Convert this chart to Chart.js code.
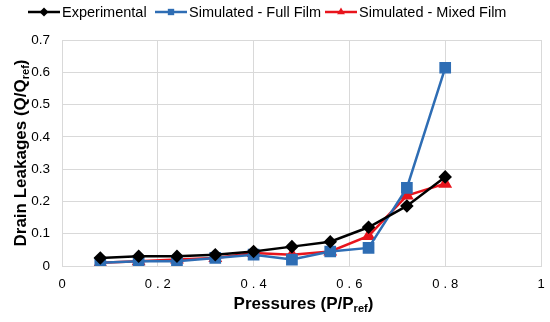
<!DOCTYPE html>
<html>
<head>
<meta charset="utf-8">
<script src="https://cdn.jsdelivr.net/npm/chart.js@4/dist/chart.umd.min.js"></script>
<style>
  html, body { margin: 0; padding: 0; background: #fff; }
  #wrap { width: 550px; height: 322px; }
</style>
</head>
<body>
<div id="wrap"><canvas id="c"></canvas></div>
<script>
// data
const pressures = [0.08, 0.16, 0.24, 0.32, 0.40, 0.48, 0.56, 0.64, 0.72, 0.80];
const experimental = [0.025, 0.03, 0.03, 0.035, 0.045, 0.06, 0.075, 0.12, 0.186, 0.276];
const fullFilm = [0.01, 0.015, 0.015, 0.025, 0.035, 0.02, 0.045, 0.056, 0.242, 0.614];
const mixedFilm = [0.01, 0.015, 0.02, 0.025, 0.04, 0.035, 0.045, 0.093, 0.218, 0.255];
const xTicks = [0, 0.2, 0.4, 0.6, 0.8, 1];
const yTicks = [0, 0.1, 0.2, 0.3, 0.4, 0.5, 0.6, 0.7];

const FONT = "'Liberation Sans', Arial, sans-serif";

function pts(ys) {
    return pressures.map((x, i) => ({ x: x, y: ys[i] }));
}

// draws text with a subscript part, centred on x
function drawSubText(ctx, parts, x, y, size) {
    let total = 0;
    parts.forEach(p => {
        ctx.font = "bold " + (p[1] ? size * 0.65 : size) + "px " + FONT;
        total += ctx.measureText(p[0]).width;
    });
    let cx = x - total / 2;
    parts.forEach(p => {
        ctx.font = "bold " + (p[1] ? size * 0.65 : size) + "px " + FONT;
        ctx.fillText(p[0], cx, p[1] ? y + size * 0.3 : y);
        cx += ctx.measureText(p[0]).width;
    });
}

const extras = {
    id: 'extras',
    afterDraw(chart) {
        const ctx = chart.ctx;
        const area = chart.chartArea;
        ctx.save();
        ctx.fillStyle = '#000';
        ctx.textBaseline = 'middle';
        ctx.textAlign = 'left';

        // x tick labels, spaced out like the original
        const xs = chart.scales.x;
        ctx.font = "13px " + FONT;
        ctx.letterSpacing = '4px';
        xTicks.forEach(v => {
            const s = String(v);
            const w = ctx.measureText(s).width - 4;
            ctx.fillText(s, xs.getPixelForValue(v) - w / 2, area.bottom + 18);
        });
        ctx.letterSpacing = '0px';

        // x axis title
        drawSubText(ctx, [['Pressures (P/P', false], ['ref', true], [')', false]],
            (area.left + area.right) / 2 + 2, 304, 17);

        // y axis title
        ctx.save();
        ctx.translate(21, (area.top + area.bottom) / 2);
        ctx.rotate(-Math.PI / 2);
        drawSubText(ctx, [['Drain Leakages (Q/Q', false], ['ref', true], [')', false]], 0, 0, 17);
        ctx.restore();

        // legend: line with marker in the middle
        const legendX = [28, 155, 325];
        chart.data.datasets.forEach((ds, i) => {
            const x0 = legendX[i], y0 = 12, w = 32;
            ctx.strokeStyle = ds.borderColor;
            ctx.lineWidth = 2.5;
            ctx.beginPath();
            ctx.moveTo(x0, y0);
            ctx.lineTo(x0 + w, y0);
            ctx.stroke();
            ctx.fillStyle = ds.backgroundColor;
            Chart.helpers.drawPoint(ctx, { pointStyle: ds.pointStyle, radius: 4.5, borderWidth: 0 }, x0 + w / 2, y0);
            ctx.fillStyle = '#000';
            ctx.font = "14.5px " + FONT;
            ctx.textAlign = 'left';
            ctx.fillText(ds.label, x0 + w + 2, y0 + 1);
        });
        ctx.restore();
    }
};

new Chart(document.getElementById('c'), {
    type: 'line',
    data: {
        datasets: [
            {
                label: 'Experimental',
                data: pts(experimental),
                borderColor: '#000000',
                backgroundColor: '#000000',
                pointStyle: 'rectRot',
                pointRadius: 5,
                borderWidth: 2.5
            },
            {
                label: 'Simulated - Full Film',
                data: pts(fullFilm),
                borderColor: '#2E6DB4',
                backgroundColor: '#2E6DB4',
                pointStyle: 'rect',
                pointRadius: 6.5,
                borderWidth: 2.5
            },
            {
                label: 'Simulated - Mixed Film',
                data: pts(mixedFilm),
                borderColor: '#E8141C',
                backgroundColor: '#E8141C',
                pointStyle: 'triangle',
                pointRadius: 5.5,
                borderWidth: 2.5
            }
        ]
    },
    options: {
        responsive: true,
        maintainAspectRatio: false,
        animation: false,
        layout: { padding: { top: 40, right: 8, left: 0, bottom: 0 } },
        plugins: {
            legend: { display: false },
            tooltip: { enabled: false }
        },
        scales: {
            x: {
                type: 'linear',
                min: 0,
                max: 1,
                afterBuildTicks(scale) {
                    scale.ticks = xTicks.map(v => ({ value: v }));
                },
                afterFit(scale) { scale.height = 56; },
                ticks: { display: false },
                grid: { color: '#d9d9d9', lineWidth: 1, drawTicks: false },
                border: { color: '#d9d9d9' }
            },
            y: {
                min: 0,
                max: 0.7,
                afterBuildTicks(scale) {
                    scale.ticks = yTicks.map(v => ({ value: v }));
                },
                afterFit(scale) { scale.width = 62; },
                ticks: {
                    color: '#000',
                    font: { family: FONT, size: 13.5 },
                    padding: 12,
                    callback: v => String(v)
                },
                grid: { color: '#d9d9d9', lineWidth: 1, drawTicks: false },
                border: { color: '#d9d9d9' }
            }
        }
    },
    plugins: [extras]
});
</script>
</body>
</html>
